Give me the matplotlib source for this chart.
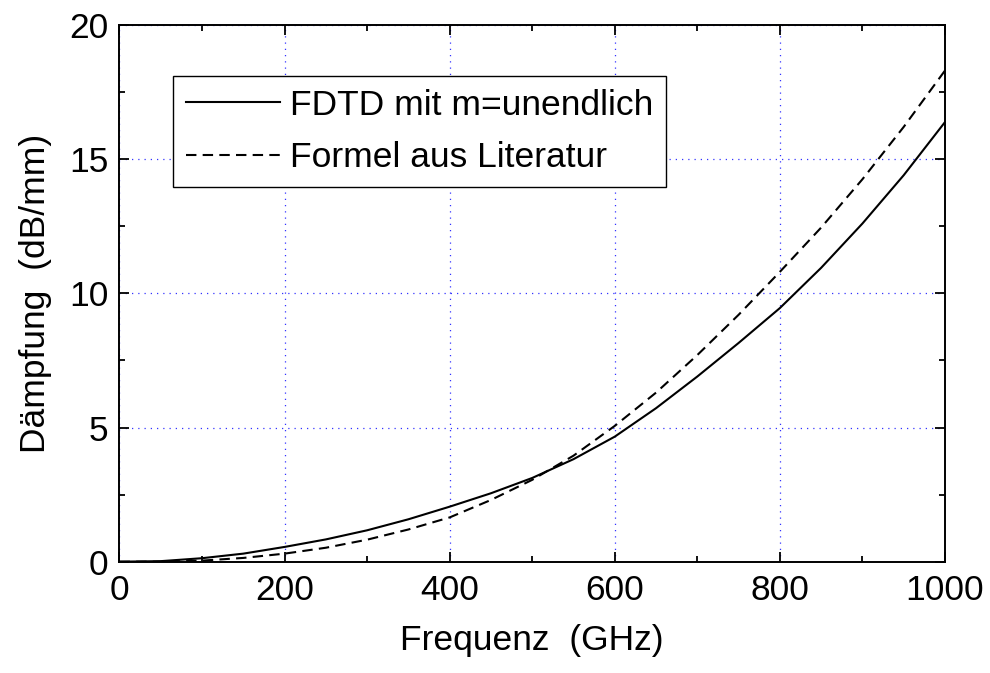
import numpy as np
import matplotlib
matplotlib.use("Agg")
import matplotlib.pyplot as plt
from matplotlib.ticker import MultipleLocator

plt.rcParams['font.family'] = ['Liberation Sans', 'DejaVu Sans']

# Frequenz in GHz
freq = [0, 50, 100, 150, 200, 250, 300, 350, 400, 450, 500,
        550, 600, 650, 700, 750, 800, 850, 900, 950, 1000]
# FDTD mit m=unendlich (dB/mm)
fdtd = [0, 0.02, 0.13, 0.30, 0.55, 0.83, 1.17, 1.58, 2.05, 2.55, 3.12,
        3.82, 4.66, 5.72, 6.90, 8.15, 9.45, 10.95, 12.6, 14.4, 16.38]
# Formel aus Literatur (dB/mm)
formel = [0, 0.0, 0.04, 0.14, 0.30, 0.52, 0.82, 1.20, 1.65, 2.30, 3.05,
          3.95, 5.06, 6.30, 7.70, 9.20, 10.8, 12.45, 14.25, 16.2, 18.3]

xticks = [0, 200, 400, 600, 800, 1000]
yticks = [0, 5, 10, 15, 20]

fs = 25.5

fig = plt.figure(figsize=(9.9, 6.73), dpi=100)
ax = fig.add_axes([0.1207, 0.1654, 0.8338, 0.7975])

ax.plot(freq, fdtd, color='black', lw=1.5, label='FDTD mit m=unendlich')
ax.plot(freq, formel, color='black', lw=1.5, linestyle=(0, (5, 3)),
        label='Formel aus Literatur')

ax.set_xlim(0, 1000)
ax.set_ylim(0, 20)
ax.set_xticks(xticks)
ax.set_yticks(yticks)
ax.xaxis.set_minor_locator(MultipleLocator(100))
ax.yaxis.set_minor_locator(MultipleLocator(2.5))

ax.grid(True, which='major', color='#3333ff', linestyle=(0, (1, 4)), lw=0.9)

ax.tick_params(which='both', direction='in', top=True, right=True,
               width=1.3, labelsize=fs)
ax.tick_params(which='major', length=7)
ax.tick_params(which='minor', length=4)
ax.tick_params(axis='x', pad=9)
ax.tick_params(axis='y', pad=8)
for s in ax.spines.values():
    s.set_linewidth(1.4)

ax.set_xlabel('Frequenz  (GHz)', fontsize=fs, labelpad=12)
ax.set_ylabel('Dämpfung  (dB/mm)', fontsize=fs, labelpad=12)

leg = ax.legend(loc='upper left', bbox_to_anchor=(0.0648, 0.905),
                fontsize=fs, fancybox=False, edgecolor='black', framealpha=1,
                handlelength=2.65, handletextpad=0.3, borderpad=0.36,
                labelspacing=0.55, borderaxespad=0)
leg.get_frame().set_linewidth(1.0)

fig.savefig('out.png', dpi=100)
